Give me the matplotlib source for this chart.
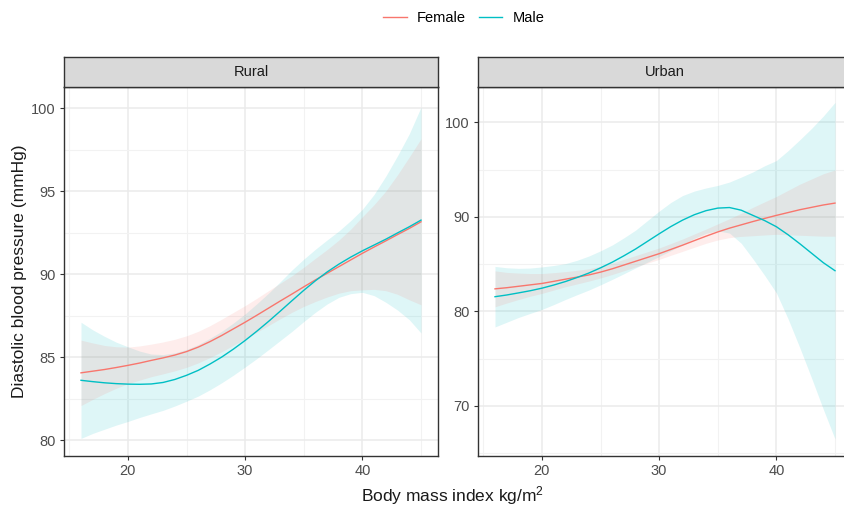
import numpy as np
import matplotlib
matplotlib.use("Agg")
import matplotlib.pyplot as plt
from matplotlib.lines import Line2D
from matplotlib.ticker import MultipleLocator

plt.rcParams['font.family'] = ['Liberation Sans', 'DejaVu Sans']
plt.rcParams['mathtext.fontset'] = 'custom'
plt.rcParams['mathtext.rm'] = 'Liberation Sans'

# BMI grid for the smoothed fits
bmi = list(range(16, 46))

# Rural: fitted diastolic BP and half-width of the confidence band
rural_female_fit = [84.05, 84.15, 84.25, 84.37, 84.5, 84.64, 84.8, 84.95, 85.12, 85.33,
                    85.6, 85.93, 86.3, 86.7, 87.1, 87.52, 87.95, 88.38, 88.8, 89.23,
                    89.65, 90.05, 90.45, 90.85, 91.25, 91.63, 92.0, 92.38, 92.75, 93.15]
rural_female_ci = [1.97, 1.7, 1.45, 1.25, 1.1, 1.03, 0.98, 0.96, 0.95, 0.95,
                   0.95, 0.96, 0.98, 0.99, 1.0, 1.02, 1.05, 1.07, 1.1, 1.18,
                   1.3, 1.43, 1.6, 1.85, 2.2, 2.55, 3.0, 3.6, 4.3, 5.0]
rural_male_fit = [83.6, 83.52, 83.45, 83.4, 83.37, 83.36, 83.38, 83.47, 83.65, 83.9,
                  84.2, 84.58, 85.0, 85.48, 86.0, 86.56, 87.15, 87.77, 88.4, 89.02,
                  89.6, 90.13, 90.6, 91.02, 91.4, 91.75, 92.1, 92.48, 92.85, 93.25]
rural_male_ci = [3.5, 3.12, 2.8, 2.5, 2.25, 2.0, 1.8, 1.68, 1.6, 1.56,
                 1.55, 1.55, 1.55, 1.57, 1.6, 1.65, 1.7, 1.77, 1.85, 1.88,
                 1.9, 1.93, 2.0, 2.2, 2.5, 3.05, 3.8, 4.65, 5.6, 6.8]

# Urban
urban_female_fit = [82.38, 82.5, 82.65, 82.8, 82.95, 83.17, 83.4, 83.62, 83.85, 84.15,
                    84.5, 84.9, 85.3, 85.7, 86.1, 86.55, 87.0, 87.48, 87.95, 88.4,
                    88.8, 89.15, 89.5, 89.83, 90.15, 90.45, 90.75, 91.0, 91.25, 91.45]
urban_female_ci = [1.9, 1.62, 1.4, 1.2, 1.05, 0.92, 0.8, 0.72, 0.65, 0.62,
                   0.6, 0.6, 0.6, 0.6, 0.6, 0.62, 0.65, 0.7, 0.75, 0.85,
                   1.0, 1.22, 1.5, 1.75, 2.0, 2.35, 2.7, 3.0, 3.3, 3.5]
urban_male_fit = [81.55, 81.73, 81.95, 82.18, 82.45, 82.78, 83.15, 83.58, 84.05, 84.6,
                  85.2, 85.88, 86.6, 87.4, 88.2, 88.97, 89.65, 90.22, 90.65, 90.92,
                  90.98, 90.7, 90.15, 89.6, 88.95, 88.1, 87.15, 86.15, 85.15, 84.3]
urban_male_ci = [3.2, 2.88, 2.6, 2.4, 2.25, 2.07, 1.9, 1.82, 1.8, 1.8,
                 1.82, 1.9, 2.0, 2.2, 2.4, 2.55, 2.6, 2.5, 2.4, 2.4,
                 2.7, 3.5, 4.6, 5.8, 7.0, 8.9, 11.0, 13.2, 15.5, 17.8]

female_col = "#F8766D"
male_col = "#00BFC4"

W, H = 844, 513
fig = plt.figure(figsize=(W / 100, H / 100), dpi=100)

def frac_box(x0, y0, x1, y1):
    return [x0 / W, 1 - y1 / H, (x1 - x0) / W, (y1 - y0) / H]

panel_specs = [
    dict(name="Rural", box=(64, 87, 438, 456), ylim=(79.04, 101.27), major=5, minor=2.5,
         series=[(rural_female_fit, rural_female_ci, female_col),
                 (rural_male_fit, rural_male_ci, male_col)]),
    dict(name="Urban", box=(478, 87, 852, 456), ylim=(64.7, 103.73), major=10, minor=5,
         series=[(urban_female_fit, urban_female_ci, female_col),
                 (urban_male_fit, urban_male_ci, male_col)]),
]

border = "#333333"
x = np.array(bmi, dtype=float)
for spec in panel_specs:
    x0, y0, x1, y1 = spec["box"]
    ax = fig.add_axes(frac_box(x0, y0, x1, y1))
    ax.set_xlim(14.55, 46.45)
    ax.set_ylim(*spec["ylim"])
    ax.xaxis.set_major_locator(MultipleLocator(10))
    ax.xaxis.set_minor_locator(MultipleLocator(5))
    ax.yaxis.set_major_locator(MultipleLocator(spec["major"]))
    ax.yaxis.set_minor_locator(MultipleLocator(spec["minor"]))
    ax.grid(which="major", color="#EBEBEB", linewidth=1.1)
    ax.grid(which="minor", color="#F2F2F2", linewidth=0.8)
    ax.set_axisbelow(True)
    ax.tick_params(which="minor", length=0)
    ax.tick_params(which="major", length=3, width=0.8, color=border,
                   labelsize=10.5, labelcolor="#4D4D4D", pad=3)
    for s in ax.spines.values():
        s.set_color(border)
        s.set_linewidth(1.0)
    # confidence bands first (male below female), then the fitted lines
    for fit, ci, col in reversed(spec["series"]):
        f = np.array(fit); c = np.array(ci)
        ax.fill_between(x, f - c, f + c, color=col, alpha=0.13, linewidth=0)
    for fit, ci, col in spec["series"]:
        ax.plot(x, fit, color=col, linewidth=1.0)

    # facet strip
    sax = fig.add_axes(frac_box(x0, 57, x1, 87))
    sax.set_facecolor("#D9D9D9")
    sax.set_xticks([]); sax.set_yticks([])
    for s in sax.spines.values():
        s.set_color(border)
        s.set_linewidth(1.0)
    sax.text(0.5, 0.5, spec["name"], transform=sax.transAxes, ha="center",
             va="center", fontsize=10.5, color="#1A1A1A")

fig.text(20 / W, 1 - 271.5 / H, "Diastolic blood pressure (mmHg)", rotation=90,
         ha="center", va="center", fontsize=12.5, color="#1A1A1A")
fig.text(453 / W, 1 - 496 / H, r"Body mass index $\mathregular{kg/m^2}$",
         ha="center", va="center", fontsize=12.5, color="#1A1A1A")

handles = [Line2D([], [], color=female_col, linewidth=1.0),
           Line2D([], [], color=male_col, linewidth=1.0)]
fig.legend(handles, ["Female", "Male"], loc="center", ncol=2,
           bbox_to_anchor=(464 / W, 1 - 18 / H), frameon=False, fontsize=10.5,
           handlelength=1.6, handletextpad=0.7, columnspacing=0.9)

fig.savefig("out.png", dpi=100)
